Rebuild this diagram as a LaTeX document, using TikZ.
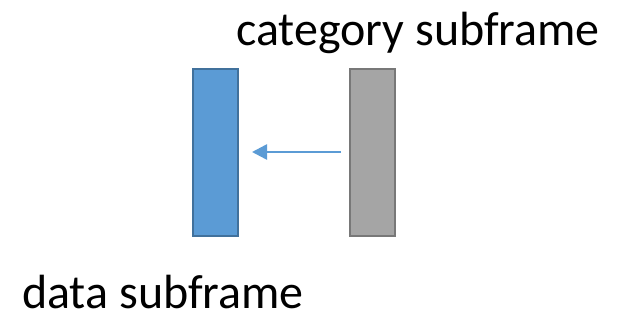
\documentclass[tikz,border=0pt]{standalone}
\usepackage{fontspec}
\setmainfont{Carlito}
\usetikzlibrary{arrows.meta}
\definecolor{datafill}{HTML}{5B9BD5}
\definecolor{dataedge}{HTML}{41719C}
\definecolor{catfill}{HTML}{A5A5A5}
\definecolor{catedge}{HTML}{787878}
\begin{document}
\begin{tikzpicture}[x=1pt,y=-1pt,
  framebox/.style={draw, line width=2pt, minimum width=45pt, minimum height=167pt, inner sep=0pt},
  label/.style={font=\fontsize{48}{56}\selectfont, inner sep=0pt, anchor=base west}]
  \useasboundingbox (0,0) rectangle (619,322);
  % the two subframes
  \node[framebox, fill=datafill, draw=dataedge] (data) at (215.5,152) {};
  \node[framebox, fill=catfill, draw=catedge] (cat) at (372.5,152) {};
  % mapping arrow
  \draw[datafill, line width=2.5pt, -{Triangle[length=15pt,width=15pt]}]
    ([xshift=-8pt]cat.west) -- ([xshift=13pt]data.east);
  % labels
  \node[label] (catlabel) at (236,45) {category subframe};
  \node[label] (datalabel) at (22,308) {data subframe};
\end{tikzpicture}
\end{document}
